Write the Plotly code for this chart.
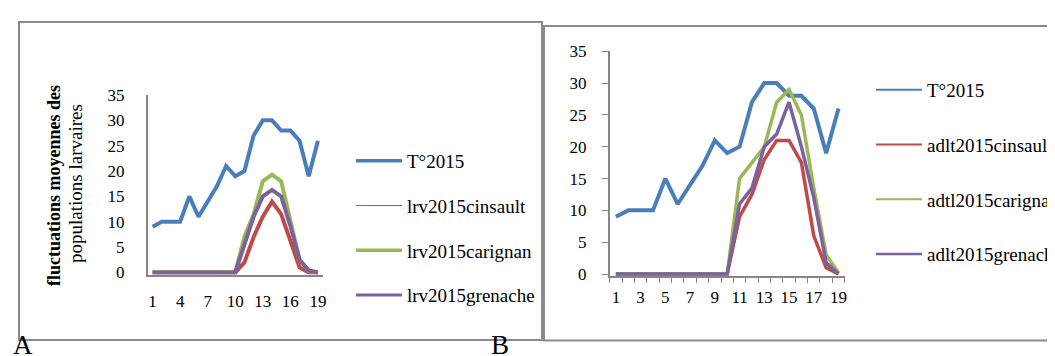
import plotly.graph_objects as go

W, H = 1055, 356

# ---------------- data ----------------
weeks = list(range(1, 20))
temp_2015 = [9, 10, 10, 10, 15, 11, 14, 17, 21, 19, 20, 27, 30, 30, 28, 28, 26, 19, 26]

# Panel A : larvae
lrv_cinsault = [0, 0, 0, 0, 0, 0, 0, 0, 0, 0, 2, 7, 11, 14, 11.5, 6, 1, 0, 0]
lrv_carignan = [0, 0, 0, 0, 0, 0, 0, 0, 0, 0, 7, 11.5, 18, 19.3, 18, 10, 2.5, 0.3, 0]
lrv_grenache = [0, 0, 0, 0, 0, 0, 0, 0, 0, 0, 5.5, 11, 15, 16.3, 15, 9.2, 2.5, 0.4, 0]

# Panel B : adults
adlt_cinsault = [0, 0, 0, 0, 0, 0, 0, 0, 0, 0, 9, 12.5, 18, 21, 21, 17.5, 6, 1, 0]
adlt_carignan = [0, 0, 0, 0, 0, 0, 0, 0, 0, 0, 15, 17.5, 20, 27, 29, 25, 13.5, 3, 0.2]
adlt_grenache = [0, 0, 0, 0, 0, 0, 0, 0, 0, 0, 11, 13.5, 20, 22, 27, 20, 12, 1.8, 0]

names_a = ["T°2015", "lrv2015cinsault", "lrv2015carignan", "lrv2015grenache"]
names_b = ["T°2015", "adlt2015cinsault", "adtl2015carignan", "adlt2015grenache"]

y_ticks = [0, 5, 10, 15, 20, 25, 30, 35]
x_ticks_a = [1, 4, 7, 10, 13, 16, 19]
x_ticks_b = [1, 3, 5, 7, 9, 11, 13, 15, 17, 19]
minor_b = [k + 0.5 for k in range(0, 20)]

ytitle_bold = "fluctuations moyennes des"
ytitle_reg = "populations larvaires"

# ---------------- style ----------------
C_BLUE = "#4A7EBB"
C_RED = "#BE4B48"
C_GREEN = "#98B954"
C_PURPLE = "#7D60A0"
colors = [C_BLUE, C_RED, C_GREEN, C_PURPLE]
SERIF = "Liberation Serif"
AX = "#868686"


def px_x(p):
    return p / W


def px_y(p):
    return 1 - p / H


def ydomain(zero_px, top_px, ymin, ymax=35):
    ppu = (zero_px - top_px) / ymax
    bottom = zero_px - ymin * ppu  # ymin negative -> lower
    return [px_y(bottom), px_y(top_px)]


fig = go.Figure()

series_a = [temp_2015, lrv_cinsault, lrv_carignan, lrv_grenache]
series_b = [temp_2015, adlt_cinsault, adlt_carignan, adlt_grenache]
plot_w_a = [4, 4, 4, 4]
plot_w_b = [4, 3.5, 3.5, 3.5]
leg_w_a = [3.5, 1, 3.5, 3]
leg_w_b = [2, 2, 2, 2.5]

for i in range(4):
    fig.add_trace(go.Scatter(x=weeks, y=series_a[i], mode="lines", name=names_a[i],
                             line=dict(color=colors[i], width=plot_w_a[i]),
                             showlegend=False, xaxis="x", yaxis="y"))
for i in range(4):
    fig.add_trace(go.Scatter(x=weeks, y=series_b[i], mode="lines", name=names_b[i],
                             line=dict(color=colors[i], width=plot_w_b[i]),
                             showlegend=False, xaxis="x2", yaxis="y2"))
# legend entries
for i in range(4):
    fig.add_trace(go.Scatter(x=[None], y=[None], mode="lines", name=names_a[i],
                             line=dict(color=colors[i], width=leg_w_a[i]),
                             legend="legend", legendgroup="a%d" % i,
                             xaxis="x", yaxis="y"))
for i in range(4):
    fig.add_trace(go.Scatter(x=[None], y=[None], mode="lines", name=names_b[i],
                             line=dict(color=colors[i], width=leg_w_b[i]),
                             legend="legend2", legendgroup="b%d" % i,
                             xaxis="x2", yaxis="y2"))

tickfont = dict(family=SERIF, size=17, color="#000000")

fig.update_layout(
    width=W, height=H,
    margin=dict(l=0, r=0, t=0, b=0, autoexpand=False),
    paper_bgcolor="white", plot_bgcolor="rgba(0,0,0,0)",
    showlegend=True,
    xaxis=dict(domain=[px_x(140), px_x(314.5)], range=[0.5, 19.5], anchor="y",
               tickmode="array", tickvals=x_ticks_a, ticktext=[str(v) for v in x_ticks_a],
               showgrid=False, zeroline=False, showline=True, linecolor=AX, linewidth=1.5,
               ticks="", ticklabelstandoff=10, tickfont=tickfont, automargin=False),
    yaxis=dict(domain=ydomain(264.5, 87, -0.4), range=[-0.4, 35], anchor="x",
               tickmode="array", tickvals=y_ticks, ticktext=[str(v) for v in y_ticks],
               showgrid=False, zeroline=False, showline=True, linecolor=AX, linewidth=2,
               ticks="", ticklabelstandoff=18, tickfont=tickfont, automargin=False),
    xaxis2=dict(domain=[px_x(601.7), px_x(836.7)], range=[0.5, 19.5], anchor="y2",
                tickmode="array", tickvals=x_ticks_b, ticktext=[str(v) for v in x_ticks_b],
                showgrid=False, zeroline=False, showline=True, linecolor=AX, linewidth=1.5,
                ticks="", ticklabelstandoff=5, tickfont=tickfont, automargin=False,
                minor=dict(tickmode="array", tickvals=minor_b, ticks="outside",
                           ticklen=5, tickcolor=AX, tickwidth=1)),
    yaxis2=dict(domain=ydomain(266, 43.3, -0.3), range=[-0.3, 35], anchor="x2",
                tickmode="array", tickvals=y_ticks, ticktext=[str(v) for v in y_ticks],
                showgrid=False, zeroline=False, showline=True, linecolor=AX, linewidth=1.5,
                ticks="outside", ticklen=6, tickcolor=AX, tickwidth=1,
                ticklabelstandoff=12, tickfont=tickfont, automargin=False),
    legend=dict(x=px_x(343), y=px_y(134), xanchor="left", yanchor="top",
                font=dict(family=SERIF, size=19, color="#000000"),
                bgcolor="rgba(0,0,0,0)", traceorder="grouped", tracegroupgap=17,
                itemwidth=46),
    legend2=dict(x=px_x(863), y=px_y(63), xanchor="left", yanchor="top",
                 font=dict(family=SERIF, size=19, color="#000000"),
                 bgcolor="rgba(0,0,0,0)", traceorder="grouped", tracegroupgap=27,
                 itemwidth=46),
)

# panel frames
fig.add_shape(type="rect", xref="paper", yref="paper",
              x0=px_x(11), x1=px_x(534), y0=px_y(332), y1=px_y(14),
              line=dict(color="#8A8A8A", width=2), layer="below")
fig.add_shape(type="rect", xref="paper", yref="paper",
              x0=px_x(536), x1=px_x(1070), y0=px_y(332.5), y1=px_y(18),
              line=dict(color="#8A8A8A", width=2), layer="below")

# y axis title of panel A (two lines)
fig.add_annotation(text="<b>" + ytitle_bold + "</b>", xref="paper", yref="paper",
                   x=px_x(46), y=px_y(178), xanchor="center", yanchor="middle",
                   textangle=-90, showarrow=False,
                   font=dict(family=SERIF, size=18, color="#000000"))
fig.add_annotation(text=ytitle_reg, xref="paper", yref="paper",
                   x=px_x(67), y=px_y(176), xanchor="center", yanchor="middle",
                   textangle=-90, showarrow=False,
                   font=dict(family=SERIF, size=19, color="#000000"))

# panel letters
fig.add_annotation(text="A", xref="paper", yref="paper", x=px_x(3), y=px_y(320),
                   xanchor="left", yanchor="top", showarrow=False,
                   font=dict(family=SERIF, size=27, color="#000000"))
fig.add_annotation(text="B", xref="paper", yref="paper", x=px_x(481), y=px_y(320),
                   xanchor="left", yanchor="top", showarrow=False,
                   font=dict(family=SERIF, size=27, color="#000000"))

fig.write_html("out.html")
